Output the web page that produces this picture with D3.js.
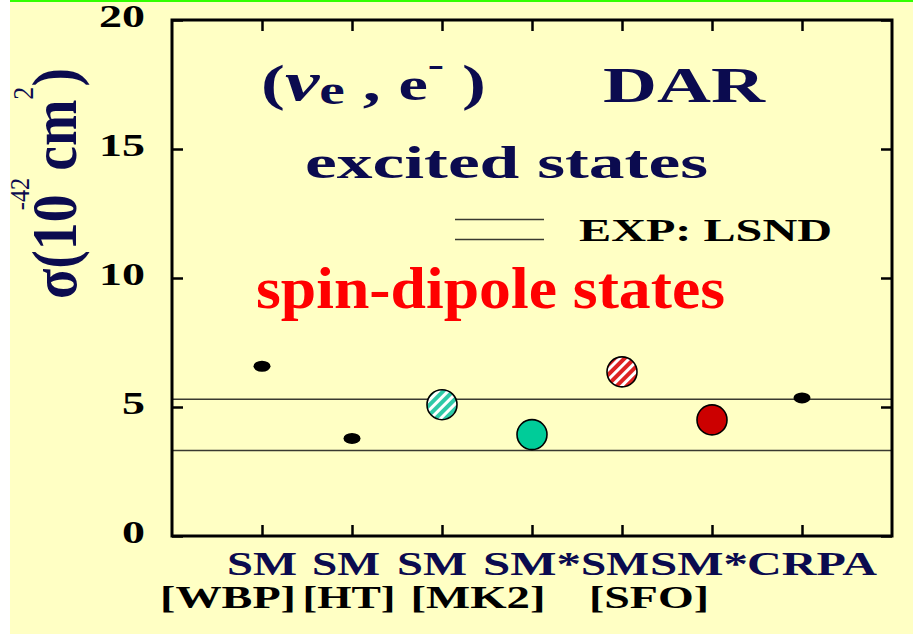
<!DOCTYPE html>
<html>
<head>
<meta charset="utf-8">
<script src="https://cdn.jsdelivr.net/npm/d3@7"></script>
<style>
  html, body { margin: 0; padding: 0; background: #ffffff; }
  svg { display: block; }
</style>
</head>
<body>
<svg id="chart" width="913" height="634"></svg>
<script>
// ---- data ----
const categories = ["SM", "SM", "SM", "SM*", "SM", "SM*", "CRPA"];
const references = ["[WBP]", "[HT]", "[MK2]", "", "[SFO]", "", ""];
const sigma = [6.58, 3.78, 5.09, 3.93, 6.36, 4.50, 5.35];   // 10^-42 cm^2
const lsndBounds = [3.31, 5.30];                            // LSND band
const yTicks = [0, 5, 10, 15, 20];
const xTicks = [1, 2, 3, 4, 5, 6, 7];

// ---- layout ----
const W = 913, H = 634;
const frame = { left: 172, top: 20, right: 892, bottom: 536 };
const navy = "#0b0b4f";
const serif = "'Liberation Serif', 'Times New Roman', serif";

// marker look per calculation
const markerStyle = [
  { shape: "dot" },
  { shape: "dot" },
  { shape: "circle", fill: "url(#hatchGreen)" },
  { shape: "circle", fill: "#00cc99" },
  { shape: "circle", fill: "url(#hatchRed)" },
  { shape: "circle", fill: "#cc0000" },
  { shape: "dot" }
];
// horizontal nudges for the two rows of category text
const catShift = [0, -6, -10, 0, -7, -13, 10];
const catWidth = [70, 68, 70, 98, 68, 98, 130];
const refShift = [-34, -3, 36, 0, 27, 0, 0];
const refWidth = [136, 93, 135, 0, 120, 0, 0];

const svg = d3.select("#chart");

const x = d3.scaleLinear().domain([0, 8]).range([frame.left, frame.right]);
const y = d3.scaleLinear().domain([0, 20]).range([frame.bottom, frame.top]);

// ---- background ----
svg.append("rect").attr("width", W).attr("height", H).attr("fill", "#ffffc4");
svg.append("rect").attr("width", 10).attr("height", H).attr("fill", "#ffffff");
svg.append("rect").attr("x", 10).attr("y", 0).attr("width", W - 10).attr("height", 2).attr("fill", "#33ff00");

// ---- hatch patterns ----
const defs = svg.append("defs");
function hatch(id, color) {
  const p = defs.append("pattern").attr("id", id)
    .attr("patternUnits", "userSpaceOnUse")
    .attr("width", 7).attr("height", 7)
    .attr("patternTransform", "rotate(45)");
  p.append("rect").attr("width", 7).attr("height", 7).attr("fill", "#ffffff");
  p.append("rect").attr("width", 4).attr("height", 7).attr("fill", color);
}
hatch("hatchGreen", "#2ec9a6");
hatch("hatchRed", "#dd2222");

// ---- text helpers ----
function fitText(sel, w) {
  return sel.attr("textLength", w).attr("lengthAdjust", "spacingAndGlyphs");
}
function fitBox(sel, w, x0) {
  const b = sel.node().getBBox();
  const s = w / b.width;
  sel.attr("transform", `translate(${x0 - s * b.x},0) scale(${s},1)`);
}

// ---- axes (ticks point inward) ----
const tickStyle = g => {
  g.select(".domain").remove();
  g.selectAll(".tick line").attr("stroke", "#000").attr("stroke-width", 2.5);
};

const gLeft = svg.append("g").attr("transform", `translate(${frame.left},0)`)
  .call(d3.axisLeft(y).tickValues(yTicks).tickSize(-11).tickPadding(27).tickFormat(d3.format("d")))
  .call(tickStyle);
gLeft.selectAll(".tick text")
  .attr("font-family", serif).attr("font-weight", "bold").attr("font-size", 31)
  .attr("fill", "#000").attr("dy", "0.2em")
  .each(function(d) { fitText(d3.select(this), String(d).length * 23); });

svg.append("g").attr("transform", `translate(${frame.right},0)`)
  .call(d3.axisRight(y).tickValues(yTicks).tickSize(-11).tickFormat(""))
  .call(tickStyle);
svg.append("g").attr("transform", `translate(0,${frame.bottom})`)
  .call(d3.axisBottom(x).tickValues(xTicks).tickSize(-11).tickFormat(""))
  .call(tickStyle);
svg.append("g").attr("transform", `translate(0,${frame.top})`)
  .call(d3.axisTop(x).tickValues(xTicks).tickSize(-11).tickFormat(""))
  .call(tickStyle);

// ---- LSND band lines ----
svg.append("g").selectAll("line").data(lsndBounds).join("line")
  .attr("x1", frame.left).attr("x2", frame.right)
  .attr("y1", d => y(d)).attr("y2", d => y(d))
  .attr("stroke", "#3a3a30").attr("stroke-width", 1.5);

// frame
svg.append("rect")
  .attr("x", frame.left).attr("y", frame.top)
  .attr("width", frame.right - frame.left).attr("height", frame.bottom - frame.top)
  .attr("fill", "none").attr("stroke", "#000").attr("stroke-width", 3);

// ---- markers ----
const pts = sigma.map((v, i) => ({ v, i, st: markerStyle[i] }));
const gm = svg.append("g");
gm.selectAll("ellipse").data(pts.filter(p => p.st.shape === "dot")).join("ellipse")
  .attr("cx", p => x(xTicks[p.i])).attr("cy", p => y(p.v))
  .attr("rx", 8.5).attr("ry", 5.5).attr("fill", "#000");
gm.selectAll("circle").data(pts.filter(p => p.st.shape === "circle")).join("circle")
  .attr("cx", p => x(xTicks[p.i])).attr("cy", p => y(p.v))
  .attr("r", 15).attr("fill", p => p.st.fill)
  .attr("stroke", "#000").attr("stroke-width", 1.6);

// ---- category labels ----
svg.append("g").selectAll("text").data(categories).join("text")
  .attr("x", (d, i) => x(xTicks[i]) + catShift[i] - catWidth[i] / 2)
  .attr("y", 575)
  .attr("font-family", serif).attr("font-weight", "bold").attr("font-size", 33)
  .attr("fill", navy)
  .text(d => d)
  .each(function(d, i) { fitText(d3.select(this), catWidth[i]); });

svg.append("g").selectAll("text").data(references.map((r, i) => ({ r, i })).filter(d => d.r)).join("text")
  .attr("x", d => x(xTicks[d.i]) + refShift[d.i] - refWidth[d.i] / 2)
  .attr("y", 608)
  .attr("font-family", serif).attr("font-weight", "bold").attr("font-size", 31)
  .attr("fill", "#000")
  .text(d => d.r)
  .each(function(d) { fitText(d3.select(this), refWidth[d.i]); });

// ---- y-axis title: σ(10^-42 cm^2) ----
const gy = svg.append("g").attr("transform", "translate(76,299) rotate(-90)");
const yt = gy.append("text").attr("x", 0).attr("y", 0)
  .attr("font-family", serif).attr("font-weight", "bold").attr("font-size", 64).attr("fill", navy);
yt.append("tspan").text("σ(10");
yt.append("tspan").attr("font-size", 28).attr("font-weight", "normal").attr("dx", -18).attr("dy", -47).text("-42");
yt.append("tspan").attr("dx", 8).attr("dy", 47).text("cm");
yt.append("tspan").attr("font-size", 30).attr("font-weight", "normal").attr("dy", -43).text("2");
yt.append("tspan").attr("dy", 43).text(")");
fitBox(yt, 231, 0);

// ---- title lines ----
const t1 = svg.append("text").attr("x", 261).attr("y", 100)
  .attr("font-family", serif).attr("font-weight", "bold").attr("font-size", 50).attr("fill", navy);
t1.append("tspan").text("(");
t1.append("tspan").attr("font-size", 54).attr("font-style", "italic").text("ν");
t1.append("tspan").attr("font-size", 40).attr("dy", 4).text("e");
t1.append("tspan").attr("dy", -4).text(" , ");
t1.append("tspan").attr("font-size", 46).text("e");
t1.append("tspan").attr("font-size", 34).attr("dy", -24).text("-");
t1.append("tspan").attr("dy", 24).text(" )");
fitBox(t1, 225, 261);

fitText(svg.append("text").attr("x", 603).attr("y", 102)
  .attr("font-family", serif).attr("font-weight", "bold").attr("font-size", 51)
  .attr("fill", navy).text("DAR"), 162);

fitText(svg.append("text").attr("x", 305).attr("y", 178)
  .attr("font-family", serif).attr("font-weight", "bold").attr("font-size", 47)
  .attr("fill", navy).text("excited states"), 403);

fitText(svg.append("text").attr("x", 256).attr("y", 308)
  .attr("font-family", serif).attr("font-weight", "bold").attr("font-size", 60)
  .attr("fill", "#ff0000").text("spin-dipole states"), 469);

// ---- legend ----
svg.append("g").selectAll("line").data(lsndBounds).join("line")
  .attr("x1", 455).attr("x2", 544)
  .attr("y1", (d, i) => 219.5 + 20 * i).attr("y2", (d, i) => 219.5 + 20 * i)
  .attr("stroke", "#3a3a30").attr("stroke-width", 1.5);
fitText(svg.append("text").attr("x", 579).attr("y", 241)
  .attr("font-family", serif).attr("font-weight", "bold").attr("font-size", 32)
  .attr("fill", "#000").text("EXP: LSND"), 253);
</script>
</body>
</html>
